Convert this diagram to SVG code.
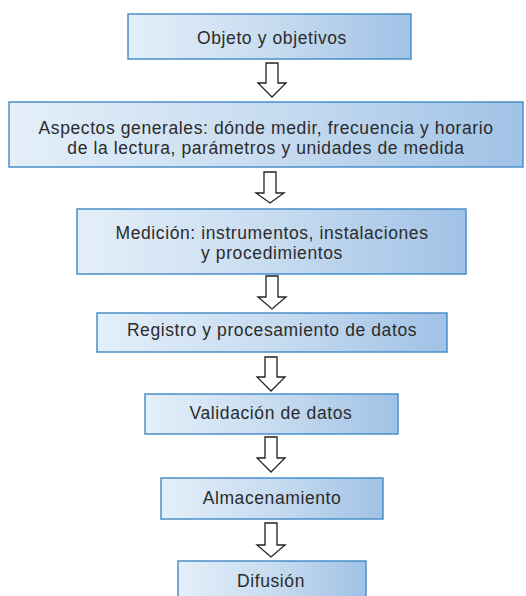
<svg xmlns="http://www.w3.org/2000/svg" width="526" height="596" viewBox="0 0 526 596">
<defs>
<linearGradient id="g" x1="0" y1="0" x2="1" y2="0">
<stop offset="0" stop-color="#e4eff9"/>
<stop offset="0.5" stop-color="#c8dcf0"/>
<stop offset="1" stop-color="#a0c2e6"/>
</linearGradient>
<style>
.box{fill:url(#g);stroke:#4a8fca;stroke-width:1.5}
.t{font-family:"Liberation Sans",Arial,sans-serif;font-size:17.5px;letter-spacing:0.6px;fill:#2b2b2b;text-anchor:middle}
.arr{fill:#fff;stroke:#222;stroke-width:1.3;stroke-linejoin:miter}
</style>
</defs>
<rect width="526" height="596" fill="#fff"/>
<g id="connectors">
<path class="arr" d="M266,63 H278 V83 H286 L272,97 L258,83 H266 Z"/>
<path class="arr" d="M264,172 H276 V193 H284 L270,203 L256,193 H264 Z"/>
<path class="arr" d="M266,276 H278 V297 H286 L272,309 L258,297 H266 Z"/>
<path class="arr" d="M265,357 H277 V377 H285 L271,391 L257,377 H265 Z"/>
<path class="arr" d="M265,437 H277 V458 H285 L271,472 L257,458 H265 Z"/>
<path class="arr" d="M265,523 H277 V545 H285 L271,557 L257,545 H265 Z"/>
</g>
<g id="n1"><rect class="box" x="128" y="14" width="283" height="45"/><text class="t" x="272" y="44">Objeto y objetivos</text></g>
<g id="n2"><rect class="box" x="9" y="102" width="514" height="65"/><text class="t" x="266" y="134">Aspectos generales: dónde medir, frecuencia y horario</text><text class="t" x="266" y="154">de la lectura, parámetros y unidades de medida</text></g>
<g id="n3"><rect class="box" x="77" y="209" width="389" height="65"/><text class="t" x="272" y="239">Medición: instrumentos, instalaciones</text><text class="t" x="272" y="259">y procedimientos</text></g>
<g id="n4"><rect class="box" x="97" y="313" width="350" height="39"/><text class="t" x="272" y="336">Registro y procesamiento de datos</text></g>
<g id="n5"><rect class="box" x="145" y="394" width="253" height="40"/><text class="t" x="271" y="419">Validación de datos</text></g>
<g id="n6"><rect class="box" x="161" y="478" width="222" height="41"/><text class="t" x="272" y="504">Almacenamiento</text></g>
<g id="n7"><rect class="box" x="178" y="561" width="188" height="45"/><text class="t" x="271" y="587">Difusión</text></g>
</svg>
